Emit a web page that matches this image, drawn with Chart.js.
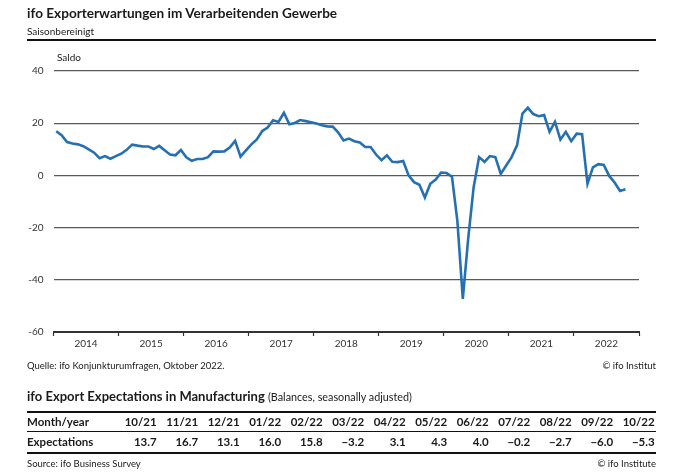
<!DOCTYPE html>
<html>
<head>
<meta charset="utf-8">
<script src="https://cdn.jsdelivr.net/npm/chart.js@4/dist/chart.umd.min.js"></script>
<style>
  html, body { margin: 0; padding: 0; background: #fff; }
  body { width: 681px; height: 476px; position: relative; overflow: hidden; font-family: Lato, "Noto Sans", sans-serif; color: #1a1a1a; }
  #wrap { position: absolute; left: 0; top: 0; width: 681px; height: 476px; }
  .t { position: absolute; white-space: nowrap; line-height: 1; }
  .rule { position: absolute; background: #111; }
  .cell { position: absolute; white-space: nowrap; line-height: 1; font-weight: bold; font-size: 11.5px; }
</style>
</head>
<body>
<div id="wrap"><canvas id="c" width="681" height="476"></canvas></div>

<div class="t" style="left:27px;top:7px;font-size:13.6px;font-weight:bold;">ifo Exporterwartungen im Verarbeitenden Gewerbe</div>
<div class="t" style="left:27px;top:26px;font-size:10px;">Saisonbereinigt</div>
<div class="rule" style="left:27px;top:39px;width:629px;height:1.5px;"></div>
<div class="t" style="left:57px;top:52px;font-size:10px;">Saldo</div>

<div class="t" style="left:27px;top:361px;font-size:9.5px;">Quelle: ifo Konjunkturumfragen, Oktober 2022.</div>
<div class="t" style="right:25px;top:361px;font-size:9.5px;">© ifo Institut</div>

<div class="t" style="left:27px;top:390px;font-size:13px;font-weight:bold;">ifo Export Expectations in Manufacturing <span style="font-weight:normal;font-size:10.8px;">(Balances, seasonally adjusted)</span></div>
<div class="rule" style="left:27px;top:411px;width:629px;height:1.5px;"></div>
<div class="rule" style="left:27px;top:431px;width:629px;height:1px;"></div>
<div class="rule" style="left:27px;top:452px;width:629px;height:1.5px;"></div>
<div id="table"></div>
<div class="t" style="left:27px;top:459px;font-size:9.5px;">Source: ifo Business Survey</div>
<div class="t" style="right:25px;top:459px;font-size:9.5px;">© ifo Institute</div>

<script>
// ---- data ----
const startYear = 2014;
const yearLabels = ['2014','2015','2016','2017','2018','2019','2020','2021','2022'];
const saldo = [
  16.9, 15.4, 12.8, 12.2, 11.9, 11.2, 10.0, 8.7, 6.6, 7.4, 6.4, 7.4,      // 2014
  8.3, 9.8, 11.8, 11.4, 11.1, 11.1, 10.1, 11.3, 9.6, 8.0, 7.7, 9.7,       // 2015
  6.9, 5.6, 6.3, 6.3, 7.0, 9.2, 9.1, 9.2, 10.7, 13.2, 7.2, 9.6,           // 2016
  11.9, 13.8, 17.0, 18.3, 21.1, 20.5, 24.0, 19.6, 20.1, 21.2, 20.8, 20.4, // 2017
  19.9, 19.2, 18.8, 18.7, 16.5, 13.4, 14.1, 13.1, 12.6, 10.9, 10.9, 8.0,  // 2018
  5.8, 7.7, 5.2, 5.1, 5.5, 0.0, -2.6, -3.6, -8.5, -3.2, -1.6, 1.1,        // 2019
  0.9, -0.5, -17.5, -47.3, -24.0, -4.5, 7.0, 5.2, 7.4, 7.0, 0.6, 3.8,     // 2020
  7.0, 11.5, 23.7, 25.9, 23.5, 22.7, 23.1, 16.7, 20.5, 13.7, 16.7, 13.1,  // 2021
  16.0, 15.8, -3.2, 3.1, 4.3, 4.0, -0.2, -2.7, -6.0, -5.3                 // 2022
];
const yTicks = [40, 20, 0, -20, -40, -60];
const tableMonths = ['10/21','11/21','12/21','01/22','02/22','03/22','04/22','05/22','06/22','07/22','08/22','09/22','10/22'];
const tableValues = ['13.7','16.7','13.1','16.0','15.8','\u22123.2','3.1','4.3','4.0','\u22120.2','\u22122.7','\u22126.0','\u22125.3'];

// ---- table ----
(function () {
  const t = document.getElementById('table');
  const add = (txt, style) => { const d = document.createElement('div'); d.className = 'cell'; d.textContent = txt; d.setAttribute('style', style); t.appendChild(d); };
  add('Month/year', 'left:27px;top:416px;');
  add('Expectations', 'left:27px;top:436px;');
  tableMonths.forEach((m, k) => {
    const right = 681 - (156.7 + 41.5 * k);
    add(m, 'right:' + right + 'px;top:416px;text-align:right;');
    add(tableValues[k], 'right:' + right + 'px;top:436px;text-align:right;');
  });
})();

// ---- chart ----
const points = saldo.map((v, i) => ({ x: i + 0.5, y: v }));
const nMonths = yearLabels.length * 12;

new Chart(document.getElementById('c'), {
  type: 'line',
  data: { datasets: [{ data: points, borderColor: '#2470b3', borderWidth: 2.6, pointRadius: 0, tension: 0, fill: false }] },
  options: {
    responsive: false, animation: false, events: [],
    layout: { padding: { left: 0, right: 42, top: 71, bottom: 118 } },
    plugins: { legend: { display: false }, tooltip: { enabled: false } },
    scales: {
      x: {
        type: 'linear', min: 0, max: nMonths,
        afterBuildTicks: s => { const a = []; for (let v = 0; v <= nMonths; v += 6) a.push({ value: v }); s.ticks = a; },
        ticks: {
          autoSkip: false, maxRotation: 0, padding: 2, color: '#333',
          font: { family: 'Lato', size: 10 },
          callback: v => (v % 12 === 6 ? yearLabels[(v - 6) / 12] : '')
        },
        grid: {
          drawOnChartArea: false, drawTicks: true, tickLength: 4, tickWidth: 1.2,
          tickColor: c => (c.tick && c.tick.value % 12 === 0 ? '#333' : 'rgba(0,0,0,0)')
        },
        border: { display: true, color: '#333', width: 2 },
        afterFit: s => { s.height = 26; }
      },
      y: {
        min: -60, max: 40,
        afterBuildTicks: s => { s.ticks = yTicks.map(v => ({ value: v })); },
        ticks: { padding: 10, color: '#333', font: { family: 'Lato', size: 10 }, callback: v => String(v) },
        grid: {
          drawTicks: false, lineWidth: 1.3,
          color: c => (c.tick && c.tick.value === -60 ? 'rgba(0,0,0,0)' : '#5a5a5a')
        },
        border: { display: false },
        afterFit: s => { s.width = 53.5; }
      }
    }
  }
});
</script>
</body>
</html>
